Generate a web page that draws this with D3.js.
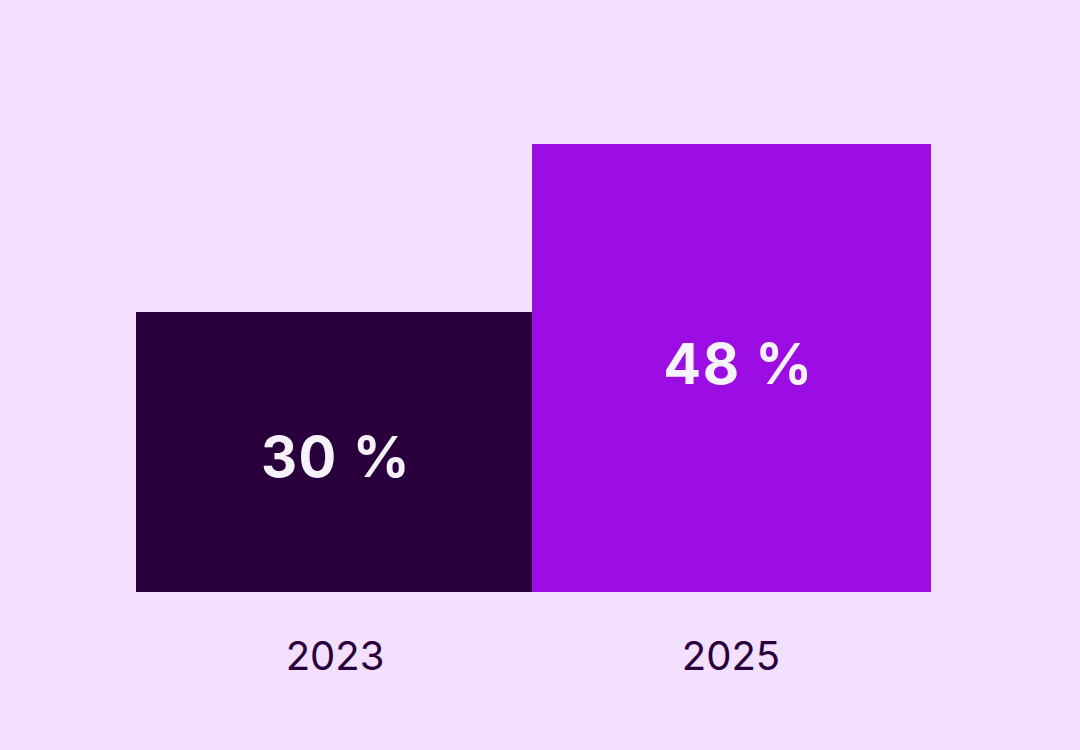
<!DOCTYPE html>
<html><head><meta charset="utf-8">
<script src="https://cdn.jsdelivr.net/npm/d3@7"></script>
<style>html,body{margin:0;padding:0;background:#F3DFFE;}</style>
</head><body>
<svg id="c" width="1080" height="750"></svg>
<script>
const categories = ["2023", "2025"];
const values = [30, 48];
const valueLabels = ["30 %", "48 %"];
const colors = ["#29003C", "#9B0DE3"];

// layout constants (not data)
const labelDy = [25, 16];
const labelDx = [2, 7];
const plotRight = 931;

const svg = d3.select("#c");
svg.append("rect").attr("width",1080).attr("height",750).attr("fill","#F3DFFE");
const x = d3.scaleBand().domain(categories).range([136, 928]).padding(0);
const y = d3.scaleLinear().domain([0, 48]).range([592, 144]);
const barW = (d,i) => i === categories.length - 1 ? plotRight - x(d) : x.bandwidth();

svg.selectAll("rect.bar").data(categories).join("rect").attr("class","bar")
  .attr("x", d => x(d)).attr("width", barW)
  .attr("y", (d,i) => y(values[i])).attr("height", (d,i) => y(0) - y(values[i]))
  .attr("fill", (d,i) => colors[i]);

svg.selectAll("text.val").data(categories).join("text").attr("class","val")
  .attr("x", (d,i) => x(d) + barW(d,i)/2 + labelDx[i])
  .attr("y", (d,i) => (y(values[i]) + y(0))/2 + labelDy[i])
  .attr("text-anchor","middle")
  .attr("font-family","Inter, 'Open Sans', sans-serif").attr("font-weight",700)
  .attr("font-size",56).attr("letter-spacing",1.5).attr("fill","#F5F2FA")
  .text((d,i) => valueLabels[i]);

const axis = d3.axisBottom(x).tickSize(0).tickPadding(0);
const g = svg.append("g").attr("transform","translate(0,592)").call(axis);
g.select(".domain").remove();
g.selectAll("text").attr("y", 78).attr("dy", 0).attr("dx", 1)
  .attr("font-family","Inter, 'Open Sans', sans-serif").attr("font-weight",400)
  .attr("font-size",40).attr("fill","#29003C");
</script>
</body></html>
